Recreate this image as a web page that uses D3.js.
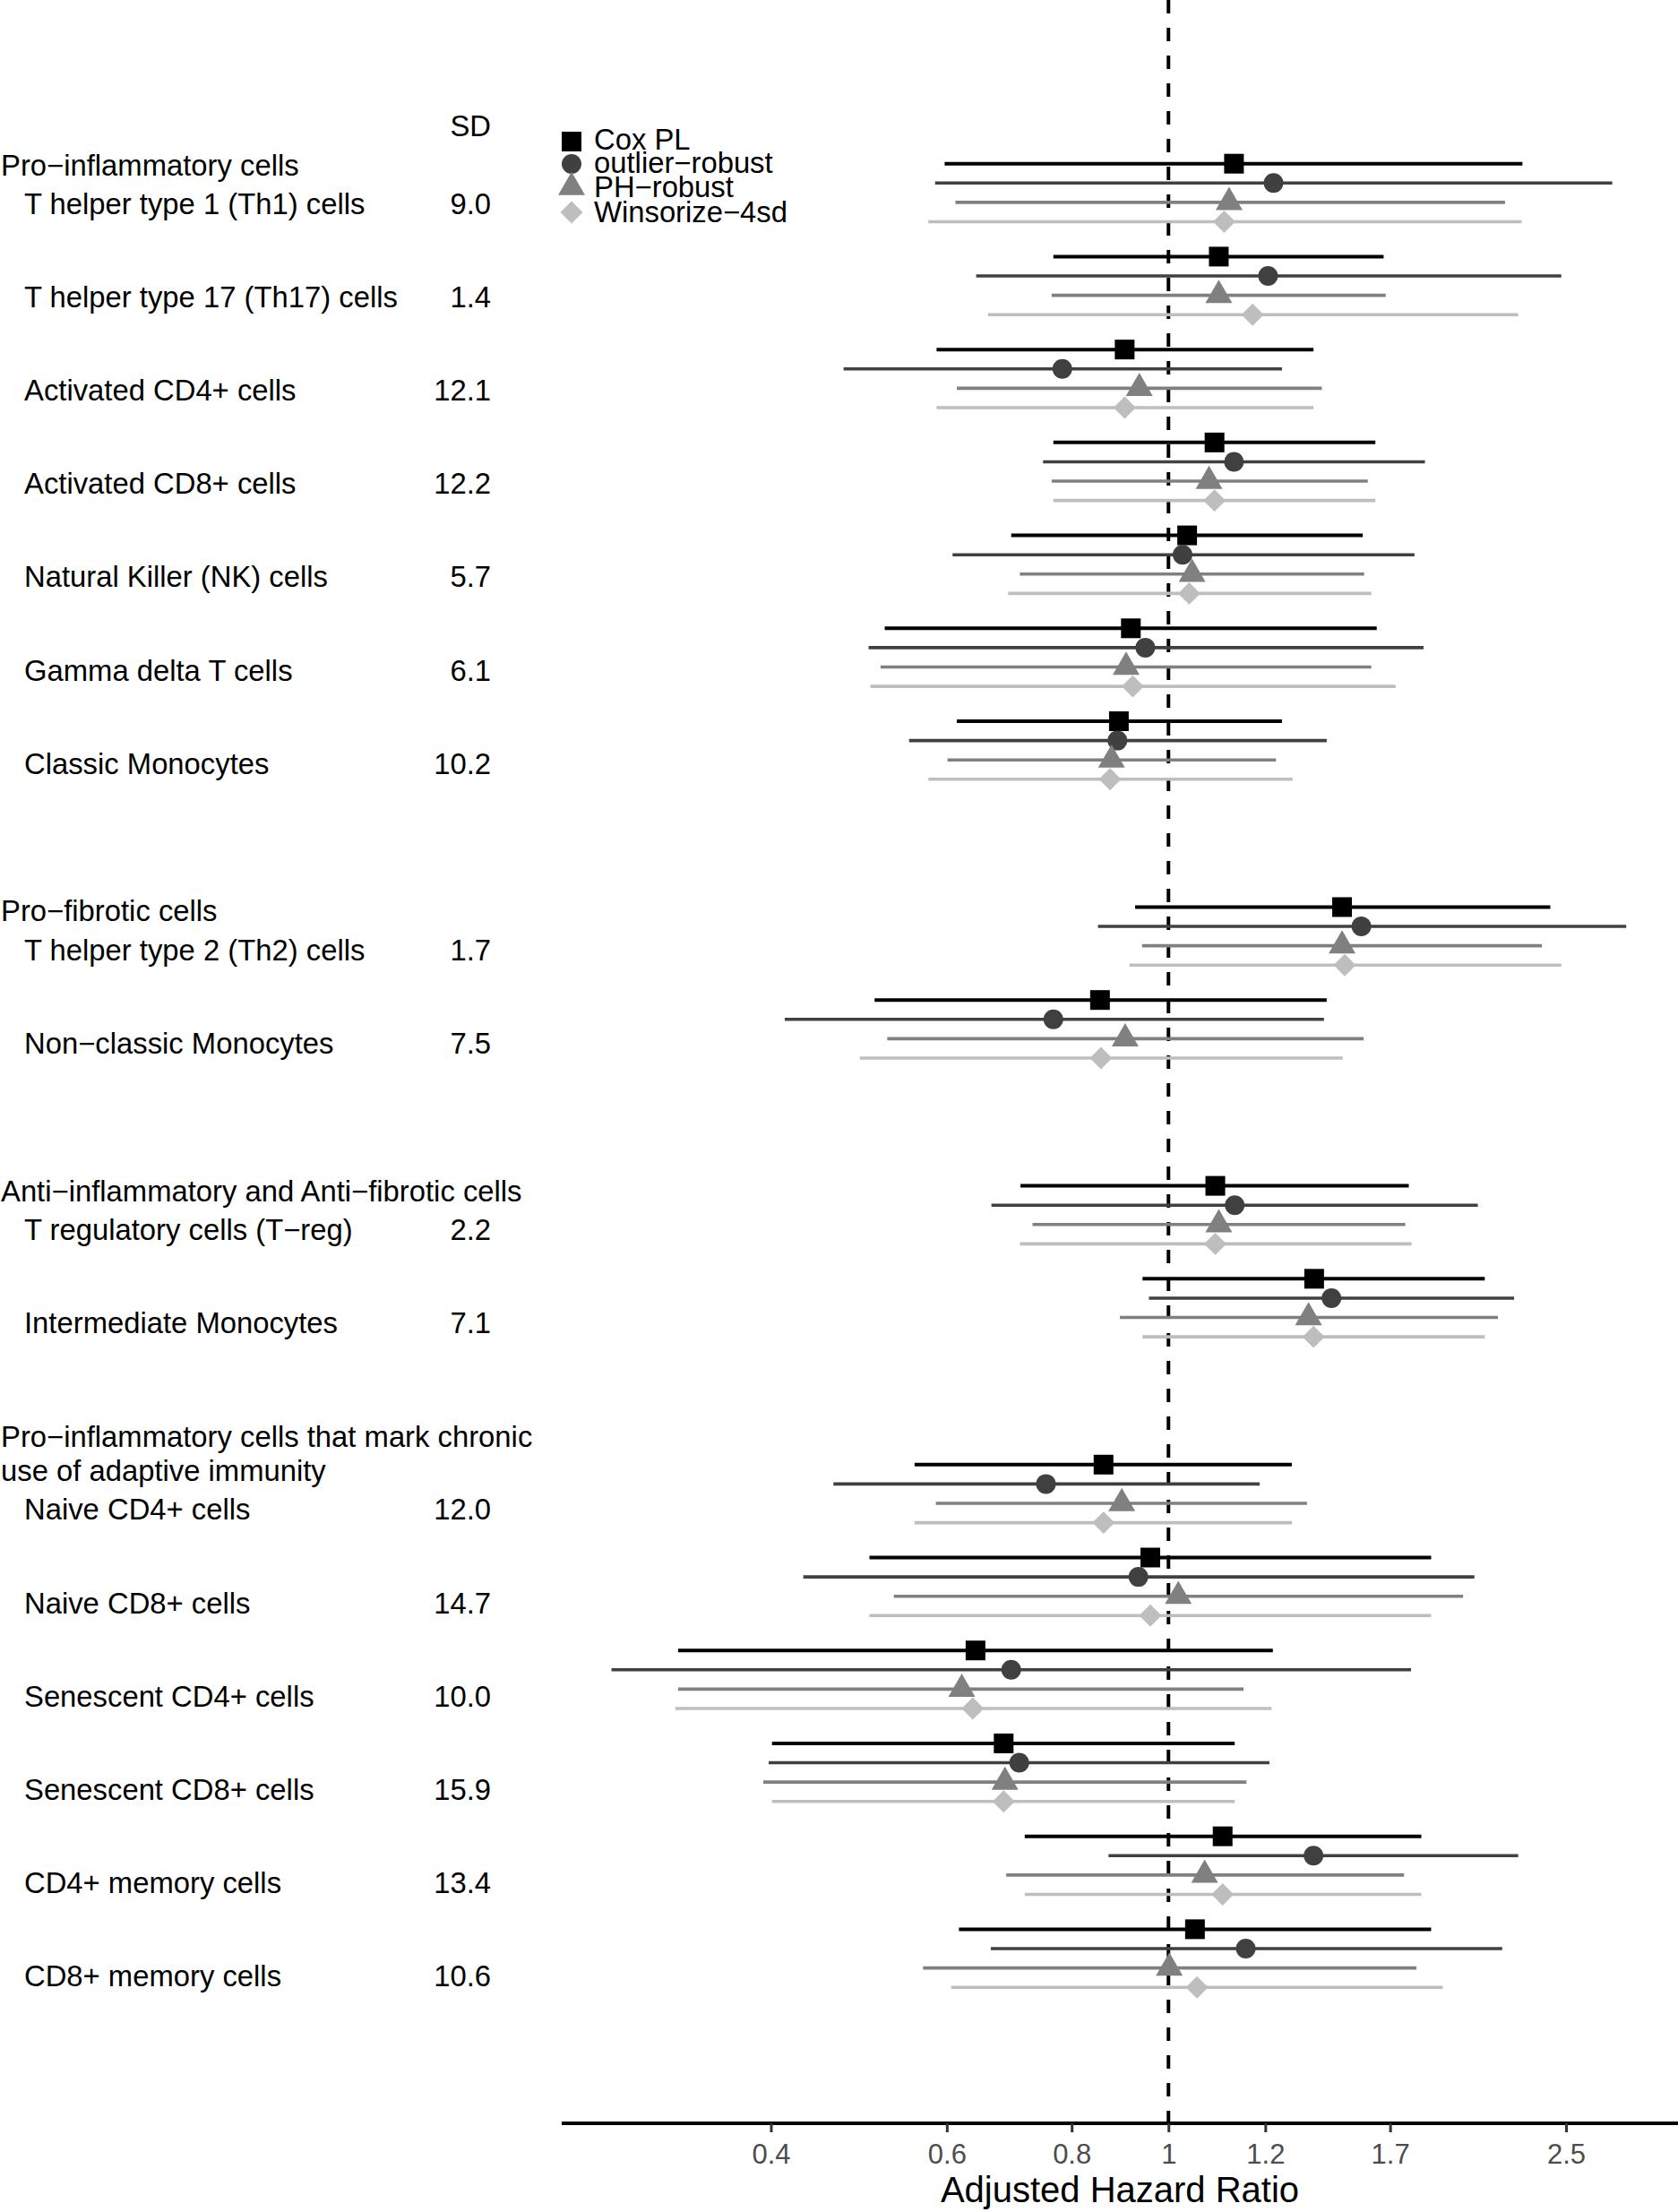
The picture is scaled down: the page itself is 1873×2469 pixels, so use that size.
<!DOCTYPE html>
<html>
<head>
<meta charset="utf-8">
<script src="https://cdn.jsdelivr.net/npm/d3@7"></script>
<style>
  html, body { margin: 0; padding: 0; background: #fff; }
  text { font-family: "Liberation Sans", Arial, Helvetica, sans-serif; }
</style>
</head>
<body>
<svg id="chart" width="1873" height="2469"></svg>
<script>
// ---------------- DATA ----------------
const cells = [
  "T helper type 1 (Th1) cells", "T helper type 17 (Th17) cells", "Activated CD4+ cells",
  "Activated CD8+ cells", "Natural Killer (NK) cells", "Gamma delta T cells",
  "Classic Monocytes", "T helper type 2 (Th2) cells", "Non\u2212classic Monocytes",
  "T regulatory cells (T\u2212reg)", "Intermediate Monocytes", "Naive CD4+ cells",
  "Naive CD8+ cells", "Senescent CD4+ cells", "Senescent CD8+ cells",
  "CD4+ memory cells", "CD8+ memory cells"
];
const sdValues = ["9.0", "1.4", "12.1", "12.2", "5.7", "6.1", "10.2", "1.7", "7.5",
                  "2.2", "7.1", "12.0", "14.7", "10.0", "15.9", "13.4", "10.6"];
const cellSlots = [0, 1, 2, 3, 4, 5, 6, 8, 9, 11, 12, 14, 15, 16, 17, 18, 19];

const groupHeaders = [
  ["Pro\u2212inflammatory cells"],
  ["Pro\u2212fibrotic cells"],
  ["Anti\u2212inflammatory and Anti\u2212fibrotic cells"],
  ["Pro\u2212inflammatory cells that mark chronic", "use of adaptive immunity"]
];
const groupFirstSlot = [0, 8, 11, 14];

const seriesNames = ["Cox PL", "outlier\u2212robust", "PH\u2212robust", "Winsorize\u22124sd"];

const coxEst = [1.163, 1.123, 0.904, 1.112, 1.044, 0.917, 0.892, 1.492, 0.854, 1.114, 1.399, 0.861, 0.959, 0.641, 0.684, 1.133, 1.063];
const coxLo  = [0.597, 0.767, 0.586, 0.767, 0.696, 0.520, 0.614, 0.926, 0.508, 0.711, 0.942, 0.557, 0.502, 0.323, 0.401, 0.718, 0.617];
const coxHi  = [2.261, 1.642, 1.397, 1.611, 1.565, 1.616, 1.299, 2.411, 1.440, 1.740, 2.073, 1.329, 1.832, 1.272, 1.165, 1.791, 1.832];

const outEst = [1.274, 1.258, 0.783, 1.163, 1.033, 0.948, 0.889, 1.560, 0.767, 1.165, 1.456, 0.754, 0.933, 0.696, 0.709, 1.397, 1.195];
const outLo  = [0.584, 0.642, 0.473, 0.749, 0.608, 0.501, 0.550, 0.850, 0.413, 0.665, 0.956, 0.462, 0.431, 0.277, 0.398, 0.871, 0.664];
const outHi  = [2.781, 2.473, 1.299, 1.806, 1.763, 1.800, 1.440, 2.872, 1.431, 2.040, 2.218, 1.234, 2.024, 1.749, 1.262, 2.239, 2.158];

const phEst  = [1.150, 1.123, 0.935, 1.098, 1.056, 0.907, 0.877, 1.492, 0.905, 1.123, 1.381, 0.898, 1.023, 0.621, 0.686, 1.087, 1.002];
const phLo   = [0.612, 0.764, 0.614, 0.764, 0.710, 0.515, 0.601, 0.941, 0.523, 0.731, 0.894, 0.585, 0.531, 0.323, 0.393, 0.688, 0.568];
const phHi   = [2.172, 1.650, 1.424, 1.583, 1.570, 1.596, 1.281, 2.365, 1.568, 1.726, 2.137, 1.376, 1.972, 1.189, 1.197, 1.721, 1.771];

const winEst = [1.137, 1.214, 0.904, 1.112, 1.049, 0.921, 0.874, 1.501, 0.856, 1.114, 1.397, 0.861, 0.959, 0.637, 0.684, 1.133, 1.068];
const winLo  = [0.575, 0.660, 0.586, 0.767, 0.691, 0.503, 0.575, 0.914, 0.491, 0.710, 0.942, 0.557, 0.502, 0.321, 0.401, 0.718, 0.606];
const winHi  = [2.257, 2.239, 1.397, 1.611, 1.596, 1.688, 1.331, 2.473, 1.494, 1.751, 2.073, 1.329, 1.832, 1.268, 1.165, 1.791, 1.882];

const tickValues = [0.4, 0.6, 0.8, 1, 1.25, 1 / 0.6, 2.5];
const tickLabels = ["0.4", "0.6", "0.8", "1", "1.2", "1.7", "2.5"];

// ---------------- STYLE ----------------
const seriesData = [
  { est: coxEst, lo: coxLo, hi: coxHi },
  { est: outEst, lo: outLo, hi: outHi },
  { est: phEst,  lo: phLo,  hi: phHi },
  { est: winEst, lo: winLo, hi: winHi }
];
const colors = ["#000000", "#404040", "#808080", "#BEBEBE"];
const lineWidths = [4, 3.6, 3.6, 3.6];
const symbols = [
  d3.symbol().type(d3.symbolSquare).size(484),
  d3.symbol().type(d3.symbolCircle).size(380),
  d3.symbol().type(d3.symbolTriangle).size(389),
  d3.symbol().type(d3.symbolSquare).size(310)
];
const rotations = [0, 0, 0, 45];
const seriesOffset = [0, 21.6, 43.2, 64.8];

const FONT = 32.8;
const svg = d3.select("#chart");
svg.append("rect").attr("width", 1873).attr("height", 2469).attr("fill", "#fff");

// ---------------- SCALES ----------------
const axisY = 2370;
const x = d3.scaleLog().domain([0.247, 3.236]).range([627, 1873]);
const yData = d3.scaleLinear().domain([0, 19]).range([182.7, 182.7 + 103.72 * 19]);
const yLabel = d3.scaleLinear().domain([0, 19]).range([239, 239 + 104.1 * 19]);

// ---------------- REFERENCE LINE ----------------
svg.append("line")
  .attr("x1", x(1)).attr("x2", x(1))
  .attr("y1", 0).attr("y2", axisY)
  .attr("stroke", "#000").attr("stroke-width", 4)
  .attr("stroke-dasharray", "15,16");

// ---------------- ERROR BARS & POINTS ----------------
seriesData.forEach((s, si) => {
  const g = svg.append("g");
  g.selectAll("line.ci").data(cellSlots).enter().append("line")
    .attr("x1", (d, i) => x(s.lo[i]))
    .attr("x2", (d, i) => x(s.hi[i]))
    .attr("y1", d => yData(d) + seriesOffset[si])
    .attr("y2", d => yData(d) + seriesOffset[si])
    .attr("stroke", colors[si])
    .attr("stroke-width", lineWidths[si]);
  g.selectAll("path.pt").data(cellSlots).enter().append("path")
    .attr("d", symbols[si]())
    .attr("transform", (d, i) => `translate(${x(s.est[i])},${yData(d) + seriesOffset[si]}) rotate(${rotations[si]})`)
    .attr("fill", colors[si]);
});

// ---------------- AXIS ----------------
const axis = d3.axisBottom(x)
  .tickValues(tickValues)
  .tickFormat((d, i) => tickLabels[i])
  .tickSize(10)
  .tickPadding(13);
const axG = svg.append("g").attr("transform", `translate(0,${axisY})`).call(axis);
axG.select(".domain").attr("stroke", "#000").attr("stroke-width", 4)
  .attr("d", `M${x.range()[0]},0H${x.range()[1]}`);
axG.selectAll(".tick line").attr("stroke", "#333").attr("stroke-width", 3);
axG.selectAll(".tick text")
  .attr("fill", "#4D4D4D")
  .style("font-size", "31px")
  .style("font-family", "'Liberation Sans', Arial, Helvetica, sans-serif");

svg.append("text")
  .attr("x", (x.range()[0] + x.range()[1]) / 2)
  .attr("y", 2458)
  .attr("text-anchor", "middle")
  .style("font-size", "40px")
  .attr("fill", "#000")
  .text("Adjusted Hazard Ratio");

// ---------------- LEFT LABELS ----------------
svg.append("text").attr("x", 548).attr("y", 152)
  .attr("text-anchor", "end").style("font-size", FONT + "px").text("SD");

svg.selectAll("text.cell").data(cells).enter().append("text")
  .attr("class", "cell")
  .attr("x", 27)
  .attr("y", (d, i) => yLabel(cellSlots[i]))
  .style("font-size", FONT + "px")
  .text(d => d);

svg.selectAll("text.sd").data(sdValues).enter().append("text")
  .attr("class", "sd")
  .attr("x", 548)
  .attr("y", (d, i) => yLabel(cellSlots[i]))
  .attr("text-anchor", "end")
  .style("font-size", FONT + "px")
  .text(d => d);

groupHeaders.forEach((lines, gi) => {
  const base = yLabel(groupFirstSlot[gi]) - 43.5;
  lines.forEach((t, li) => {
    svg.append("text")
      .attr("x", 1)
      .attr("y", base - (lines.length - 1 - li) * 38)
      .style("font-size", FONT + "px")
      .text(t);
  });
});

// ---------------- LEGEND ----------------
const legendY = [158, 183, 209, 237];
const legendBase = [167, 193, 220, 248];
const lg = svg.append("g");
seriesNames.forEach((name, si) => {
  lg.append("path")
    .attr("d", symbols[si]())
    .attr("transform", `translate(638,${legendY[si]}) rotate(${rotations[si]})`)
    .attr("fill", colors[si]);
  lg.append("text")
    .attr("x", 663).attr("y", legendBase[si])
    .style("font-size", FONT + "px")
    .text(name);
});
</script>
</body>
</html>
